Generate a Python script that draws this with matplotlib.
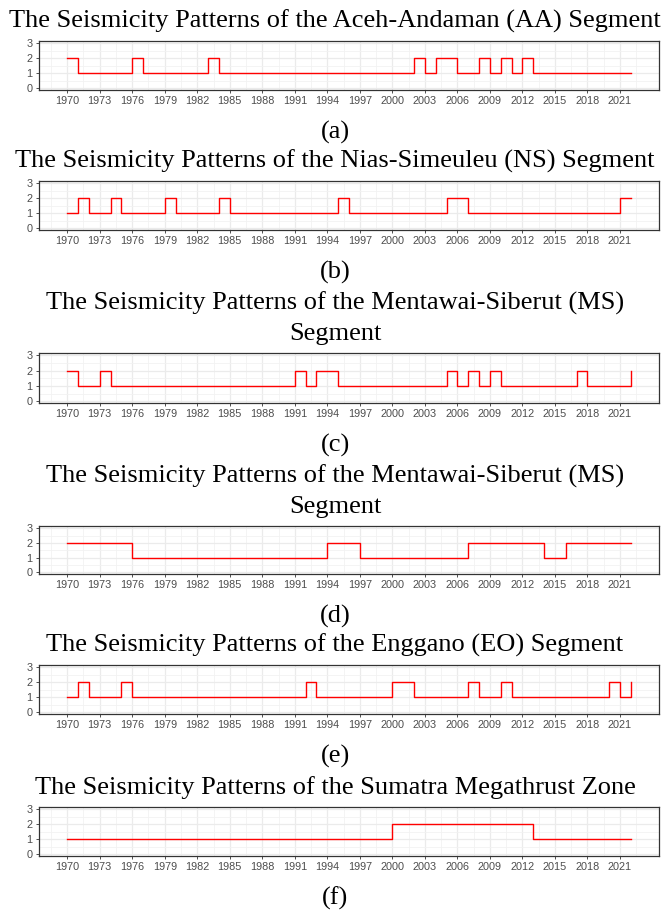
"""Seismicity step patterns for the Sumatra megathrust segments, 1970-2022.
Six stacked panels, each with a serif title above and a letter caption below.
Saves out.png
"""
import numpy as np
import matplotlib
matplotlib.use("Agg")
import matplotlib.pyplot as plt
from matplotlib.ticker import MultipleLocator, FixedLocator

W, H = 670, 916
OUT = "out.png"

years = list(range(1970, 2023))
xticks = list(range(1970, 2022, 3))

# yearly pattern values, one row per decade (1970s, 1980s, ..., 2020-2022)
aa = ([2, 1, 1, 1, 1, 1, 2, 1, 1, 1] + [1, 1, 1, 2, 1, 1, 1, 1, 1, 1]
      + [1, 1, 1, 1, 1, 1, 1, 1, 1, 1] + [1, 1, 2, 1, 2, 2, 1, 1, 2, 1]
      + [2, 1, 2, 1, 1, 1, 1, 1, 1, 1] + [1, 1, 1])
ns = ([1, 2, 1, 1, 2, 1, 1, 1, 1, 2] + [1, 1, 1, 1, 2, 1, 1, 1, 1, 1]
      + [1, 1, 1, 1, 1, 2, 1, 1, 1, 1] + [1, 1, 1, 1, 1, 2, 2, 1, 1, 1]
      + [1, 1, 1, 1, 1, 1, 1, 1, 1, 1] + [1, 2, 2])
ms = ([2, 1, 1, 2, 1, 1, 1, 1, 1, 1] + [1, 1, 1, 1, 1, 1, 1, 1, 1, 1]
      + [1, 2, 1, 2, 2, 1, 1, 1, 1, 1] + [1, 1, 1, 1, 1, 2, 1, 2, 1, 2]
      + [1, 1, 1, 1, 1, 1, 1, 2, 1, 1] + [1, 1, 2])
ms2 = ([2, 2, 2, 2, 2, 2, 1, 1, 1, 1] + [1, 1, 1, 1, 1, 1, 1, 1, 1, 1]
       + [1, 1, 1, 1, 2, 2, 2, 1, 1, 1] + [1, 1, 1, 1, 1, 1, 1, 2, 2, 2]
       + [2, 2, 2, 2, 1, 1, 2, 2, 2, 2] + [2, 2, 2])
eo = ([1, 2, 1, 1, 1, 2, 1, 1, 1, 1] + [1, 1, 1, 1, 1, 1, 1, 1, 1, 1]
      + [1, 1, 2, 1, 1, 1, 1, 1, 1, 1] + [2, 2, 1, 1, 1, 1, 1, 2, 1, 1]
      + [2, 1, 1, 1, 1, 1, 1, 1, 1, 1] + [2, 1, 2])
smz = ([1, 1, 1, 1, 1, 1, 1, 1, 1, 1] + [1, 1, 1, 1, 1, 1, 1, 1, 1, 1]
       + [1, 1, 1, 1, 1, 1, 1, 1, 1, 1] + [2, 2, 2, 2, 2, 2, 2, 2, 2, 2]
       + [2, 2, 2, 1, 1, 1, 1, 1, 1, 1] + [1, 1, 1])

titles = [
    "The Seismicity Patterns of the Aceh-Andaman (AA) Segment",
    "The Seismicity Patterns of the Nias-Simeuleu (NS) Segment",
    "The Seismicity Patterns of the Mentawai-Siberut (MS)\nSegment",
    "The Seismicity Patterns of the Mentawai-Siberut (MS)\nSegment",
    "The Seismicity Patterns of the Enggano (EO) Segment",
    "The Seismicity Patterns of the Sumatra Megathrust Zone",
]
captions = ["(a)", "(b)", "(c)", "(d)", "(e)", "(f)"]
series = [aa, ns, ms, ms2, eo, smz]

# layout in pixels: panel top, panel bottom
panel_px = [(41, 90), (181, 230), (353, 403), (526, 574), (665, 714), (807, 856)]
LEFT, RIGHT = 39, 659
LINE_GAP = 30
FS = 19

SERIF = ["Liberation Serif", "DejaVu Serif"]
SANS = ["Liberation Sans", "DejaVu Sans"]


def style_axis(ax):
    ax.set_xlim(1967.4, 2024.6)
    ax.set_ylim(-0.12, 3.15)
    ax.set_xticks(xticks)
    ax.xaxis.set_minor_locator(FixedLocator(np.arange(1968.5, 2024.6, 3)))
    ax.set_yticks([0, 1, 2, 3])
    ax.yaxis.set_minor_locator(MultipleLocator(0.5))
    ax.grid(which="major", color="#EBEBEB", lw=0.9)
    ax.grid(which="minor", color="#F2F2F2", lw=0.6)
    ax.set_axisbelow(True)
    for s in ax.spines.values():
        s.set_color("#333333")
        s.set_linewidth(0.9)
    ax.tick_params(which="major", direction="out", length=2.5, width=0.6,
                   color="#333333", labelcolor="#4D4D4D", labelsize=7.8, pad=2)
    ax.tick_params(which="minor", length=0)
    for lab in ax.get_xticklabels() + ax.get_yticklabels():
        lab.set_family(SANS)


def main():
    fig = plt.figure(figsize=(W / 100, H / 100), dpi=100)
    for vals, title, cap, (top, bot) in zip(series, titles, captions, panel_px):
        ax = fig.add_axes([LEFT / W, 1 - bot / H, (RIGHT - LEFT) / W, (bot - top) / H])
        ax.step(years, vals, where="post", color="#FF0000", lw=1.0)
        style_axis(ax)

        lines = title.split("\n")
        base = top - 13 - LINE_GAP * (len(lines) - 1)
        for i, ln in enumerate(lines):
            fig.text(0.5, 1 - (base + i * LINE_GAP) / H, ln, ha="center",
                     va="baseline", family=SERIF, fontsize=FS, color="black")
        fig.text(0.5, 1 - (bot + 49) / H, cap, ha="center", va="baseline",
                 family=SERIF, fontsize=FS, color="black")

    fig.savefig(OUT, dpi=100)


if __name__ == "__main__":
    main()
